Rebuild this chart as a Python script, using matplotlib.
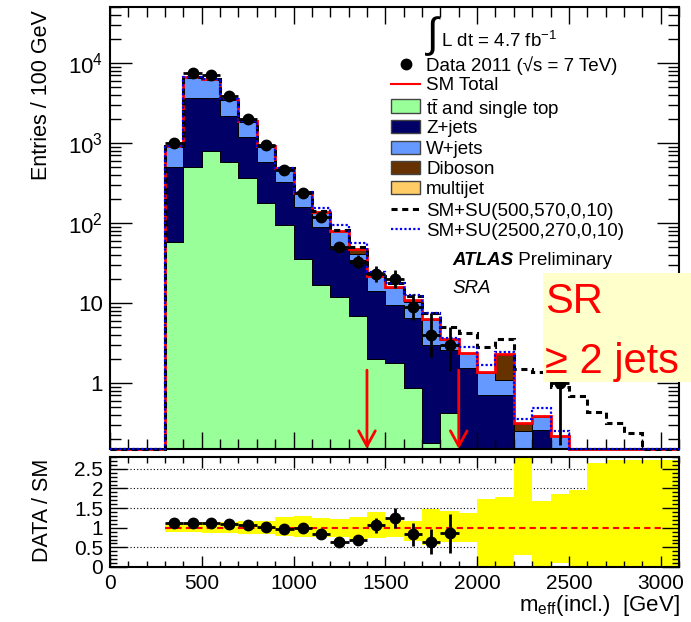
import numpy as np
import matplotlib
matplotlib.use("Agg")
import matplotlib.pyplot as plt
from matplotlib.patches import Rectangle
from matplotlib.lines import Line2D
from matplotlib.ticker import FixedLocator, FixedFormatter, MultipleLocator, LogLocator, NullFormatter

plt.rcParams['font.family'] = ['Liberation Sans', 'DejaVu Sans']
plt.rcParams['mathtext.fontset'] = 'custom'
plt.rcParams['mathtext.rm'] = 'Liberation Sans'
plt.rcParams['mathtext.it'] = 'Liberation Sans:italic'
plt.rcParams['mathtext.bf'] = 'Liberation Sans:bold'

# 100 GeV bins, lower edges 300 ... 3000 GeV
bin_low = np.arange(300, 3100, 100)

# background stack (entries / 100 GeV), bottom to top
ttbar = [58, 508, 790, 580, 360, 178, 95, 35, 17, 12, 6.8, 2.0, 1.8, 0.87, 0.18, 0.42,
         0, 0, 0, 0, 0, 0, 0, 0, 0, 0, 0, 0]
zjets = [438, 3152, 2870, 1570, 815, 402, 227, 122, 72, 36, 28, 12, 7.7, 5.6, 2.8, 2.2,
         1.54, 0.71, 0.71, 0.10, 0.26, 0.08, 0, 0, 0, 0, 0, 0]
wjets = [419, 3040, 2690, 1400, 705, 340, 156, 81, 49, 31, 6.0, 7.5, 5.9, 3.8, 3.2, 0.8,
         0.81, 0.62, 0.38, 0.15, 0.12, 0.14, 0, 0, 0, 0, 0, 0]
diboson = [3, 15, 12, 8, 5, 3, 2, 1.2, 0.8, 0.5, 7.0, 0.2, 0.6, 0.5, 0.1, 0.1,
           0.03, 0.02, 1.15, 0.06, 0.005, 0, 0, 0, 0, 0, 0, 0]
multijet = [0.5, 5, 4, 2, 1, 0.5, 0.3, 0.2, 0.1, 0.1, 0.1, 0.05, 0.05, 0.05, 0.02, 0.02,
            0.01, 0.01, 0.05, 0.01, 0.005, 0, 0, 0, 0, 0, 0, 0]

# signal contributions added on top of SM
su500 = [0.3, 2, 3, 3, 3, 3, 3, 3, 3, 3, 2.5, 2, 1.8, 1.5, 1.2, 1.5,
         1.8, 1.5, 1.25, 1.2, 1.0, 0.68, 0.69, 0.43, 0.32, 0.24, 0, 0]
su2500 = [0.1, 0.5, 1, 1, 1.5, 2, 3, 5, 17, 15, 9, 2.7, 1.5, 1.8, 1.2, 0.15,
          0.46, 0.33, 0.16, 0.04, 0.10, 0.03, 0, 0, 0, 0, 0, 0]

# data
data = [1010, 7500, 7040, 3900, 2000, 950, 460, 237, 119, 50, 33, 23, 20, 9, 4, 3,
        0, 0, 0, 0, 0, 1, 0, 0, 0, 0, 0, 0]
data_err_lo = [32, 87, 84, 62, 45, 31, 21, 15, 11, 7.1, 5.7, 4.8, 4.4, 2.9, 1.9, 1.6,
               0, 0, 0, 0, 0, 0.83, 0, 0, 0, 0, 0, 0]
data_err_hi = [32, 87, 84, 62, 45, 31, 22, 16, 12, 8.1, 6.8, 5.8, 5.5, 4.1, 3.5, 2.0,
               0, 0, 0, 0, 0, 1.3, 0, 0, 0, 0, 0, 0]

# ratio panel (first 16 bins)
ratio = [1.11, 1.13, 1.11, 1.10, 1.06, 1.03, 0.96, 0.99, 0.85, 0.64, 0.69, 1.06, 1.25, 0.83, 0.64, 0.86]
ratio_err = [0.035, 0.013, 0.013, 0.018, 0.024, 0.034, 0.045, 0.065, 0.079, 0.09, 0.12, 0.2,
             0.26, 0.29, 0.32, 0.5]
band_lo = [0.89, 0.88, 0.86, 0.86, 0.84, 0.84, 0.79, 0.77, 0.77, 0.77, 0.71, 0.75, 0.77, 0.67, 0.55, 0.63,
           0.63, 0, 0, 0.3, 0, 0.1, 0, 0, 0, 0, 0, 0]
band_hi = [1.11, 1.12, 1.14, 1.14, 1.17, 1.18, 1.27, 1.30, 1.25, 1.21, 1.28, 1.40, 1.22, 1.16, 1.48, 1.42,
           1.37, 1.73, 1.78, 2.9, 1.68, 1.87, 1.95, 2.66, 2.72, 2.72, 2.72, 2.72]

cuts = [1400, 1900]
cut_arrow_top = 1.45

stack_labels = [r'$\mathrm{t\bar{t}}$ and single top', 'Z+jets', 'W+jets', 'Diboson', 'multijet']
stack_colors = ['#99ff99', '#000066', '#6699ff', '#663300', '#ffcc66']

W, H = 691, 622
def fx(px):
    return px / W
def fy(py):
    return 1 - py / H

fig = plt.figure(figsize=(W / 100, H / 100), dpi=100)
ax = fig.add_axes([fx(110), fy(449), 569 / W, 442 / H])
ax2 = fig.add_axes([fx(110), fy(567), 569 / W, 110 / H])

ymin, ymax = 0.15, 5e4
edges = np.append(bin_low, bin_low[-1] + 100)
centers = bin_low + 50

# stacked backgrounds
cum = np.zeros(len(bin_low))
for vals, col in zip([ttbar, zjets, wjets, diboson, multijet], stack_colors):
    top = cum + np.array(vals)
    ax.stairs(np.maximum(top, 1e-3), edges, baseline=np.maximum(cum, 1e-3), fill=True,
              facecolor=col, edgecolor='black', lw=0.7, zorder=1)
    cum = top
total = cum

full_edges = np.arange(0, edges[-1] + 1, 100)
def at_floor(v):
    return np.maximum(np.r_[np.zeros(3), v], ymin)

ax.stairs(at_floor(total), full_edges, baseline=None, color='red', lw=2, zorder=2, clip_on=False)
ax.stairs(at_floor(total + np.array(su500)), full_edges, baseline=None, color='black', lw=2.2,
          ls=(0, (2, 1.5)), zorder=3, clip_on=False)
ax.stairs(at_floor(total + np.array(su2500)), full_edges, baseline=None, color='blue', lw=1.6,
          ls=(0, (1, 1)), zorder=3, clip_on=False)

d = np.array(data, dtype=float)
m = d > 0
ax.errorbar(centers[m], d[m], xerr=50, yerr=[np.array(data_err_lo)[m], np.array(data_err_hi)[m]],
            fmt='o', color='black', ms=7.5, elinewidth=2, capsize=0, zorder=5)

for c in cuts:
    ax.annotate('', xy=(c, ymin), xytext=(c, cut_arrow_top),
                arrowprops=dict(arrowstyle='->,head_length=0.55,head_width=0.3', color='red', lw=2,
                                shrinkA=0, shrinkB=0, mutation_scale=20), zorder=6)

ax.set_yscale('log')
ax.set_ylim(ymin, ymax)
ax.set_xlim(0, 3100)
ax.yaxis.set_major_locator(FixedLocator([1, 10, 100, 1000, 10000]))
ax.yaxis.set_major_formatter(FixedFormatter(['1', '10', '$10^{2}$', '$10^{3}$', '$10^{4}$']))
ax.yaxis.set_minor_locator(LogLocator(base=10, subs=np.arange(2, 10)))
ax.yaxis.set_minor_formatter(NullFormatter())
ax.xaxis.set_major_locator(MultipleLocator(500))
ax.xaxis.set_minor_locator(MultipleLocator(100))
ax.tick_params(which='both', direction='in', top=True, right=True, labelbottom=False, width=1)
ax.tick_params(axis='y', which='major', length=16, labelsize=16, pad=5)
ax.tick_params(axis='y', which='minor', length=8)
ax.tick_params(axis='x', which='major', length=12)
ax.tick_params(axis='x', which='minor', length=7)
for s in ax.spines.values():
    s.set_linewidth(1.5)

# ratio panel
ax2.stairs(band_hi, edges, baseline=band_lo, fill=True, color='yellow', lw=0, zorder=1)
for g in [0.5, 1.5, 2, 2.5]:
    ax2.axhline(g, color='black', ls=(0, (1, 2)), lw=0.8, zorder=0.5)
ax2.hlines(1, edges[0], 3000, colors='red', linestyles=(0, (3, 2)), lw=1.5, zorder=3)
ax2.errorbar(centers[:len(ratio)], ratio, xerr=50, yerr=ratio_err, fmt='o', color='black',
             ms=7.5, elinewidth=2, capsize=0, zorder=5)
ax2.set_xlim(0, 3100)
ax2.set_ylim(0, 2.8)
ax2.yaxis.set_major_locator(FixedLocator([0, 0.5, 1, 1.5, 2, 2.5]))
ax2.yaxis.set_major_formatter(FixedFormatter(['0', '0.5', '1', '1.5', '2', '2.5']))
ax2.yaxis.set_minor_locator(MultipleLocator(0.1))
ax2.xaxis.set_major_locator(MultipleLocator(500))
ax2.xaxis.set_minor_locator(MultipleLocator(100))
ax2.tick_params(which='both', direction='in', top=True, right=True, width=1, labelsize=15, pad=5)
ax2.tick_params(axis='y', which='major', length=12)
ax2.tick_params(axis='y', which='minor', length=5)
ax2.tick_params(axis='x', which='major', length=8)
ax2.tick_params(axis='x', which='minor', length=4)
for s in ax2.spines.values():
    s.set_linewidth(1.5)

# axis titles
fig.text(fx(42), fy(10), 'Entries / 100 GeV', rotation=90, ha='center', va='top', fontsize=15.5)
fig.text(fx(42), fy(510), 'DATA / SM', rotation=90, ha='center', va='center', fontsize=15.5)
fig.text(fx(680), fy(605), r'm$_{\mathrm{eff}}$(incl.)  [GeV]', ha='right', va='center', fontsize=16)

# legend
fs = 13.5
fig.text(fx(427), fy(36), '\u222b', fontsize=30, va='center', ha='left')
fig.text(fx(441), fy(39), 'L dt = 4.7 fb$^{-1}$', fontsize=fs, va='center_baseline')
fig.add_artist(Line2D([fx(406)], [fy(64)], marker='o', ms=7.5, color='black', transform=fig.transFigure))
fig.text(fx(426), fy(64), 'Data 2011 (\u221as = 7 TeV)', fontsize=fs, va='center_baseline')
fig.add_artist(Line2D([fx(391), fx(420)], [fy(84), fy(84)], color='red', lw=1.5, transform=fig.transFigure))
fig.text(fx(426), fy(84), 'SM Total', fontsize=fs, va='center_baseline')
for i, (lab, col) in enumerate(zip(stack_labels, stack_colors)):
    yc = 106 + i * 20.5
    fig.add_artist(Rectangle((fx(391), fy(yc + 6.5)), 29 / W, 13 / H, facecolor=col,
                             edgecolor='#444444', lw=1, transform=fig.transFigure))
    fig.text(fx(426), fy(yc), lab, fontsize=fs, va='center_baseline')
fig.add_artist(Line2D([fx(391), fx(420)], [fy(209), fy(209)], color='black', lw=2.2, ls=(0, (2, 1.5)),
                      transform=fig.transFigure))
fig.text(fx(426), fy(209), 'SM+SU(500,570,0,10)', fontsize=fs, va='center_baseline')
fig.add_artist(Line2D([fx(391), fx(420)], [fy(229), fy(229)], color='blue', lw=1.6, ls=(0, (1, 1)),
                      transform=fig.transFigure))
fig.text(fx(426), fy(229), 'SM+SU(2500,270,0,10)', fontsize=fs, va='center_baseline')

t = fig.text(fx(452), fy(258), 'ATLAS', fontsize=fs, weight='bold', style='italic', va='center_baseline')
ax.annotate(' Preliminary', xy=(1, 0), xycoords=t, va='bottom', ha='left', fontsize=fs,
            annotation_clip=False)
fig.text(fx(452), fy(286), 'SRA', fontsize=fs, style='italic', va='center_baseline')

# signal region box
fig.add_artist(Rectangle((fx(543), fy(382)), (W - 543) / W, (382 - 273) / H, facecolor='#ffffcc',
                         edgecolor='none', transform=fig.transFigure, zorder=10))
fig.text(fx(545), fy(313), 'SR', color='red', fontsize=30, va='baseline', zorder=11)
fig.text(fx(545), fy(373), '\u2265 2 jets', color='red', fontsize=30, va='baseline', zorder=11)

fig.savefig('out.png', dpi=100)
